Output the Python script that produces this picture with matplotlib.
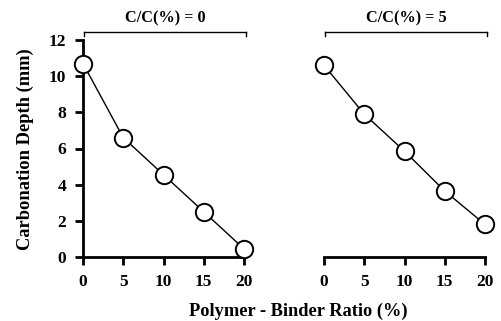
import matplotlib
matplotlib.use("Agg")
import matplotlib.pyplot as plt
from matplotlib.lines import Line2D

plt.rcParams['font.family'] = ['Liberation Serif', 'DejaVu Serif']
plt.rcParams['font.weight'] = 'bold'

ratio = [0, 5, 10, 15, 20]
depth_cc0 = [10.7, 6.6, 4.55, 2.5, 0.45]
depth_cc5 = [10.6, 7.9, 5.85, 3.65, 1.8]
panel_titles = ["C/C(%) = 0", "C/C(%) = 5"]
yticks = [0, 2, 4, 6, 8, 10, 12]

fig = plt.figure(figsize=(5.01, 3.21), dpi=100)
W, H = 501, 321
bottom = 1 - 257 / H
height = (257 - 40) / H
width = (244 - 83) / W
ax1 = fig.add_axes([83 / W, bottom, width, height])
ax2 = fig.add_axes([324 / W, bottom, width, height])

for ax, data, title in [(ax1, depth_cc0, panel_titles[0]), (ax2, depth_cc5, panel_titles[1])]:
    ax.plot(ratio, data, color='black', lw=1.0, marker='o', ms=12.5,
            mfc='white', mec='black', mew=1.4, clip_on=False, zorder=5)
    ax.set_xlim(0, 20)
    ax.set_ylim(0, 12)
    ax.set_xticks(ratio)
    for s in ['top', 'right']:
        ax.spines[s].set_visible(False)
    ax.spines['bottom'].set_linewidth(2)
    ax.spines['left'].set_linewidth(2)
    ax.tick_params(direction='out', length=6, width=2, labelsize=12.5, pad=6)
    for lab in ax.get_xticklabels() + ax.get_yticklabels():
        lab.set_fontweight('bold')
    # bracket
    pos = ax.get_position()
    yb = 1 - 32 / H
    x0, x1 = pos.x0 + 1 / W, pos.x1 + 2 / W
    fig.add_artist(Line2D([x0, x1], [yb, yb], color='black', lw=1, transform=fig.transFigure))
    for xx in (x0, x1):
        fig.add_artist(Line2D([xx, xx], [yb, yb - 4 / H], color='black', lw=1, transform=fig.transFigure))
    fig.text((x0 + x1) / 2, 1 - 18 / H, title, ha='center', va='center',
             fontsize=11.7, fontweight='bold')

ax1.set_yticks(yticks)
ax2.spines['left'].set_visible(False)
ax2.tick_params(axis='y', left=False, labelleft=False)

fig.text(25 / W, 1 - 149 / H, "Carbonation Depth (mm)", ha='center', va='center',
         rotation=90, fontsize=13.3, fontweight='bold')
fig.text(298 / W, 1 - 311 / H, "Polymer - Binder Ratio (%)", ha='center', va='center',
         fontsize=13.2, fontweight='bold')

fig.savefig("out.png", dpi=100)
